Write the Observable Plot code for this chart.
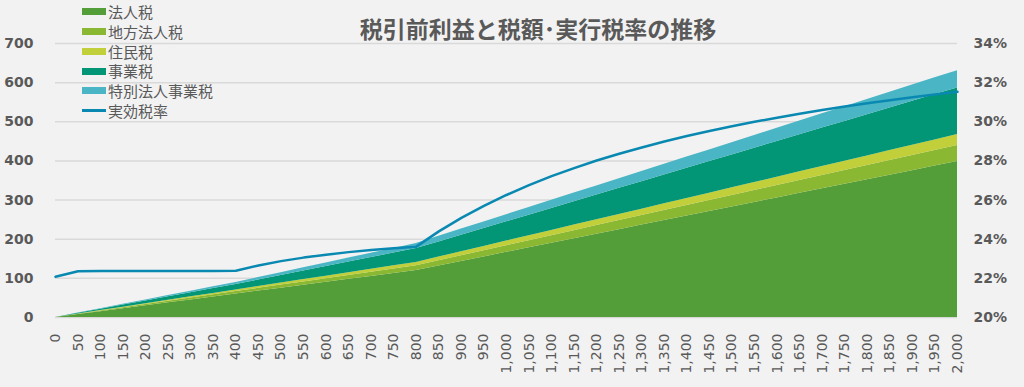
<!DOCTYPE html>
<html>
<head>
<meta charset="utf-8">
<script src="https://cdn.jsdelivr.net/npm/d3@7"></script>
<script src="https://cdn.jsdelivr.net/npm/@observablehq/plot@0.6"></script>
<style>
  html, body { margin: 0; padding: 0; background: #F2F2F2; }
  #wrap { position: relative; width: 1024px; height: 387px; overflow: hidden; }
  #title { position: absolute; left: 288px; width: 500px; top: 17px; text-align: center;
    font-family: "Noto Sans CJK JP", sans-serif; font-weight: bold; font-size: 23px; line-height: 23px; color: #595959; }
  #legend { position: absolute; left: 82px; top: 2px; font-family: "Noto Sans CJK JP", sans-serif;
    font-size: 15px; color: #595959; }
  .row { height: 19.75px; line-height: 19.75px; display: flex; align-items: center; white-space: nowrap; }
  .sw { width: 24px; height: 7px; margin-right: 2px; display: inline-block; }
  .ln { width: 24px; height: 3px; margin-right: 2px; display: inline-block; }
</style>
</head>
<body>
<div id="wrap">
  <div id="chart"></div>
  <div id="title">税引前利益と税額･実行税率の推移</div>
  <div id="legend"></div>
</div>
<script>
const incomes = [0,50,100,150,200,250,300,350,400,450,500,550,600,650,700,750,800,850,900,950,1000,1050,1100,1150,1200,1250,1300,1350,1400,1450,1500,1550,1600,1650,1700,1750,1800,1850,1900,1950,2000];

const houjinzei = [0,7.5,15,22.5,30,37.5,45,52.5,60,67.5,75,82.5,90,97.5,105,112.5,120,131.6,143.2,154.8,166.4,178,189.6,201.2,212.8,224.4,236,247.6,259.2,270.8,282.4,294,305.6,317.2,328.8,340.4,352,363.6,375.2,386.8,398.4];
const chihouHoujinzei = [0,0.77,1.55,2.32,3.09,3.86,4.64,5.41,6.18,6.95,7.73,8.5,9.27,10.04,10.82,11.59,12.36,13.55,14.75,15.94,17.14,18.33,19.53,20.72,21.92,23.11,24.31,25.5,26.7,27.89,29.09,30.28,31.48,32.67,33.87,35.06,36.26,37.45,38.65,39.84,41.04];
const juuminzei = [0,0.53,1.05,1.58,2.1,2.63,3.15,3.68,4.2,4.73,5.25,5.78,6.3,6.83,7.35,7.88,8.4,9.21,10.02,10.84,11.65,12.46,13.27,14.08,14.9,15.71,16.52,17.33,18.14,18.96,19.77,20.58,21.39,22.2,23.02,23.83,24.64,25.45,26.26,27.08,27.89];
const jigyouzei = [0,1.75,3.5,5.25,7,8.75,10.5,12.25,14,16.65,19.3,21.95,24.6,27.25,29.9,32.55,35.2,38.7,42.2,45.7,49.2,52.7,56.2,59.7,63.2,66.7,70.2,73.7,77.2,80.7,84.2,87.7,91.2,94.7,98.2,101.7,105.2,108.7,112.2,115.7,119.2];
const tokubetsu = [0,0.65,1.3,1.94,2.59,3.24,3.89,4.53,5.18,6.16,7.14,8.12,9.1,10.08,11.06,12.04,13.02,14.32,15.61,16.91,18.2,19.5,20.79,22.09,23.38,24.68,25.97,27.27,28.56,29.86,31.15,32.45,33.74,35.04,36.33,37.63,38.92,40.22,41.51,42.81,44.1];
const effectiveRate = [22.08,22.36,22.38,22.37,22.38,22.37,22.38,22.37,22.39,22.66,22.88,23.06,23.21,23.34,23.45,23.54,23.62,24.40,25.09,25.70,26.26,26.76,27.22,27.63,28.02,28.37,28.69,28.99,29.27,29.53,29.77,30.00,30.21,30.41,30.60,30.78,30.95,31.10,31.25,31.40,31.53];

const seriesNames = ["法人税","地方法人税","住民税","事業税","特別法人事業税"];
const lineName = "実効税率";
const seriesColors = ["#549E39","#8AB833","#C0CF3A","#029676","#4AB5C4"];
const lineColor = "#0989B1";
const yTicks = [0,100,200,300,400,500,600,700];
const rateTicks = [20,22,24,26,28,30,32,34];

const seriesValues = [houjinzei, chihouHoujinzei, juuminzei, jigyouzei, tokubetsu];
const rows = incomes.flatMap((inc, i) => seriesNames.map((s, j) => ({income: inc, series: s, value: seriesValues[j][i]})));
const rateRows = incomes.map((inc, i) => ({income: inc, rate: effectiveRate[i]}));
// map the right (rate) axis onto the left value scale: 20% -> 0, 34% -> 700
const rateToY = r => (r - 20) * 50;

const chart = Plot.plot({
  width: 1024,
  height: 387,
  marginTop: 43,
  marginBottom: 70,
  marginLeft: 55,
  marginRight: 67,
  style: {background: "#F2F2F2", color: "#595959", fontFamily: "DejaVu Sans, sans-serif", fontSize: "14px", overflow: "visible"},
  x: {domain: [0, 2000]},
  y: {domain: [0, 700]},
  color: {domain: seriesNames, range: seriesColors},
  marks: [
    Plot.gridY(yTicks, {stroke: "#D9D9D9", strokeOpacity: 1, strokeWidth: 1.5}),
    Plot.areaY(rows, {x: "income", y: "value", fill: "series", order: seriesNames}),
    Plot.line(rateRows, {x: "income", y: d => rateToY(d.rate), stroke: lineColor, strokeWidth: 2.5}),
    Plot.axisY(yTicks, {tickSize: 0, tickPadding: 22, fontWeight: "bold", fontSize: 14, label: null}),
    Plot.axisY(rateTicks.map(rateToY), {anchor: "right", tickSize: 0, tickPadding: 16, fontWeight: "bold", fontSize: 14, label: null,
      tickFormat: d => Math.round(20 + d / 50) + "%"}),
    Plot.axisX(incomes, {tickSize: 0, tickPadding: 16, tickRotate: -90, fontSize: 14, label: null, tickFormat: d3.format(",")})
  ]
});
document.getElementById("chart").appendChild(chart);

const legend = document.getElementById("legend");
seriesNames.forEach((s, j) => {
  const r = document.createElement("div");
  r.className = "row";
  r.innerHTML = `<span class="sw" style="background:${seriesColors[j]}"></span>${s}`;
  legend.appendChild(r);
});
const lr = document.createElement("div");
lr.className = "row";
lr.innerHTML = `<span class="ln" style="background:${lineColor}"></span>${lineName}`;
legend.appendChild(lr);
</script>
</body>
</html>
